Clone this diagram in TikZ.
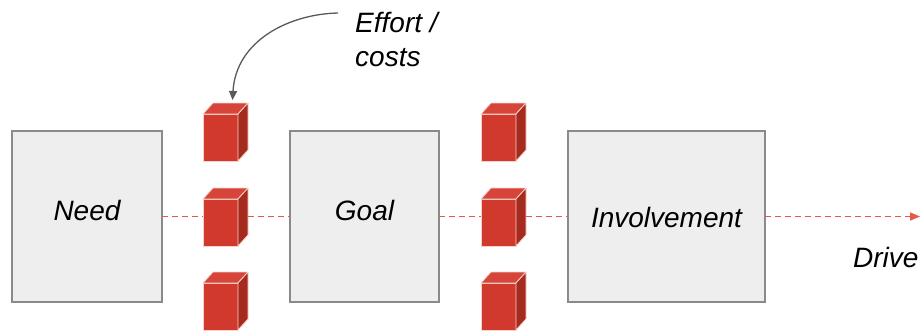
\documentclass[tikz,border=0pt]{standalone}
\usepackage{fontspec}
\setmainfont{Liberation Sans}
\usetikzlibrary{arrows.meta}

\definecolor{boxfill}{HTML}{EEEEEE}
\definecolor{boxline}{HTML}{8A8A8A}
\definecolor{cubefront}{HTML}{D0392B}
\definecolor{cubetop}{HTML}{D6443A}
\definecolor{cubeside}{HTML}{A62B1F}
\definecolor{cubeedge}{HTML}{F6D2CB}
\definecolor{flow}{HTML}{E25A4C}
\definecolor{pointer}{HTML}{5A5A5A}

\begin{document}
\begin{tikzpicture}[x=1pt,y=-1pt,
  stage/.style={draw=boxline, line width=1.5pt, fill=boxfill,
    minimum height=171pt, inner sep=0pt, outer sep=0pt},
  lbl/.style={font=\fontsize{28}{34}\selectfont\itshape, inner sep=0pt},
  block/.style={fill=cubefront, draw=cubeedge, line width=0.8pt,
    minimum width=35pt, minimum height=47pt, inner sep=0pt, outer sep=0pt},
  blockface/.style={draw=cubeedge, line width=0.8pt, line join=round},
  flowline/.style={draw=flow, line width=1.5pt, dash pattern=on 6pt off 4pt},
  pointerline/.style={draw=pointer, line width=1.3pt,
    -{Triangle[length=9pt,width=8pt]}},
]
\useasboundingbox (0,0) rectangle (921,330);

% the three stages
\node[stage, minimum width=150pt] (need) at (87,216.5) {};
\node[stage, minimum width=149pt] (goal) at (364.5,216.5) {};
\node[stage, minimum width=197pt] (inv)  at (666.5,216.5) {};

\node[lbl, anchor=base] at ([yshift=-3.5pt]need.center) {Need};
\node[lbl, anchor=base] at ([yshift=-3.5pt]goal.center) {Goal};
\node[lbl, anchor=base] at ([yshift=-10.5pt]inv.center) {Involvement};

% cost blocks: front faces as nodes, top and side faces drawn on them
\foreach \col/\x in {1/220.5, 2/498.5}{
  \foreach \row/\y in {1/137.5, 2/222.5, 3/306.5}{
    \node[block] (c\col\row) at (\x,\y) {};
    \filldraw[blockface, fill=cubetop] (c\col\row.north west) -- ++(10,-11)
      -- ++(35,0) -- (c\col\row.north east) -- cycle;
    \filldraw[blockface, fill=cubeside] (c\col\row.north east) -- ++(10,-11)
      -- ++(0,47) -- (c\col\row.south east) -- cycle;
    \coordinate (c\col\row r) at ([xshift=10pt]c\col\row.east);
  }
}

% flow between stages
\coordinate (driveend) at (920,216.5);
\draw[flowline] (need.east) -- (need.east -| c12.west);
\draw[flowline] (c12r |- need.east) -- (goal.west);
\draw[flowline] (goal.east) -- (goal.east -| c22.west);
\draw[flowline] (c22r |- goal.east) -- (inv.west);
\draw[flowline, -{Triangle[length=10pt,width=8pt]}, flow] (inv.east) -- (driveend);

\node[lbl, anchor=base west] (drive) at (853,267) {Drive};

% effort / costs annotation (base anchor sits on the last line)
\node[lbl, anchor=base west, align=left] (effort) at (355,66) {Effort /\\costs};
\coordinate (effstart) at (338,13);
\coordinate (efftip) at ([xshift=12pt,yshift=14pt]c11.north);
\draw[pointerline] (effstart) .. controls (290,14) and (236,40) .. (efftip);
\end{tikzpicture}
\end{document}
